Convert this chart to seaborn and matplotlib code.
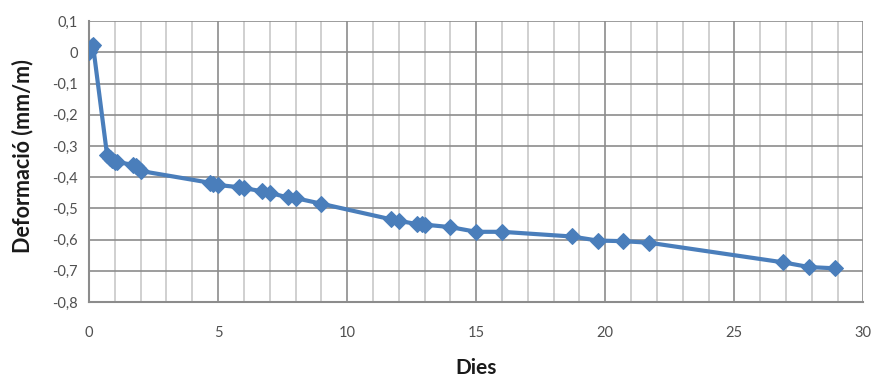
import matplotlib
matplotlib.use("Agg")
import matplotlib.pyplot as plt
import seaborn as sns
import pandas as pd
from matplotlib.ticker import MultipleLocator, FuncFormatter

# === Data ===
dies = [0.0, 0.05, 0.1, 0.15,
        0.7, 0.8, 0.9, 1.0, 1.1,
        1.7, 1.8, 1.9, 2.0,
        4.7, 4.8, 5.0, 5.8, 6.0, 6.7, 7.0, 7.7, 8.0, 9.0,
        11.7, 12.0, 12.7, 12.9, 13.0, 14.0, 15.0, 16.0,
        18.7, 19.7, 20.7, 21.7, 26.9, 27.9, 28.9]
deformacio = [0.0, 0.01, 0.02, 0.025,
              -0.33, -0.34, -0.345, -0.35, -0.352,
              -0.36, -0.365, -0.372, -0.38,
              -0.418, -0.423, -0.425, -0.432, -0.435, -0.445, -0.45, -0.465, -0.467, -0.485,
              -0.535, -0.54, -0.55, -0.551, -0.552, -0.56, -0.575, -0.575,
              -0.59, -0.603, -0.605, -0.61, -0.673, -0.688, -0.692]

df = pd.DataFrame({"Dies": dies, "Deformacio": deformacio})

sns.set_style("white")
plt.rcParams['font.family'] = ['Lato', 'DejaVu Sans']

fig = plt.figure(figsize=(8.73, 3.78), dpi=100)
ax = fig.add_axes([0.102, 0.201, 0.887, 0.743])

blue = "#4a7ebb"
sns.lineplot(data=df, x="Dies", y="Deformacio", ax=ax, color=blue, linewidth=3,
             marker="D", markersize=8, markeredgecolor=blue, markerfacecolor=blue,
             sort=False, zorder=5)

ax.set_xlim(0, 30)
ax.set_ylim(-0.8, 0.1)
ax.xaxis.set_major_locator(MultipleLocator(5))
ax.xaxis.set_minor_locator(MultipleLocator(1))
ax.yaxis.set_major_locator(MultipleLocator(0.1))
ax.grid(which="minor", axis="x", color="#c8c8c8", linewidth=1.2)
ax.grid(which="major", axis="x", color="#8c8c8c", linewidth=1.2)
ax.grid(which="major", axis="y", color="#8c8c8c", linewidth=1.2)
ax.set_axisbelow(True)

fmt = lambda v, p: ("%g" % round(v, 1)).replace(".", ",")
ax.yaxis.set_major_formatter(FuncFormatter(fmt))
ax.tick_params(axis="both", which="both", length=0, labelsize=10.5, colors="#505050")
ax.tick_params(axis="x", pad=17)
ax.tick_params(axis="y", pad=8)

for s in ["top", "right"]:
    ax.spines[s].set_visible(False)
for s in ["left", "bottom"]:
    ax.spines[s].set_color("#8c8c8c")
    ax.spines[s].set_linewidth(1.5)

ax.set_xlabel("Dies", fontsize=15, fontweight="bold", color="#1a1a1a")
ax.set_ylabel("Deformació (mm/m)", fontsize=15.5, fontweight="bold", color="#1a1a1a")
ax.xaxis.set_label_coords(0.5, -0.2)
ax.yaxis.set_label_coords(-0.072, 0.52)

fig.savefig("out.png", dpi=100)
